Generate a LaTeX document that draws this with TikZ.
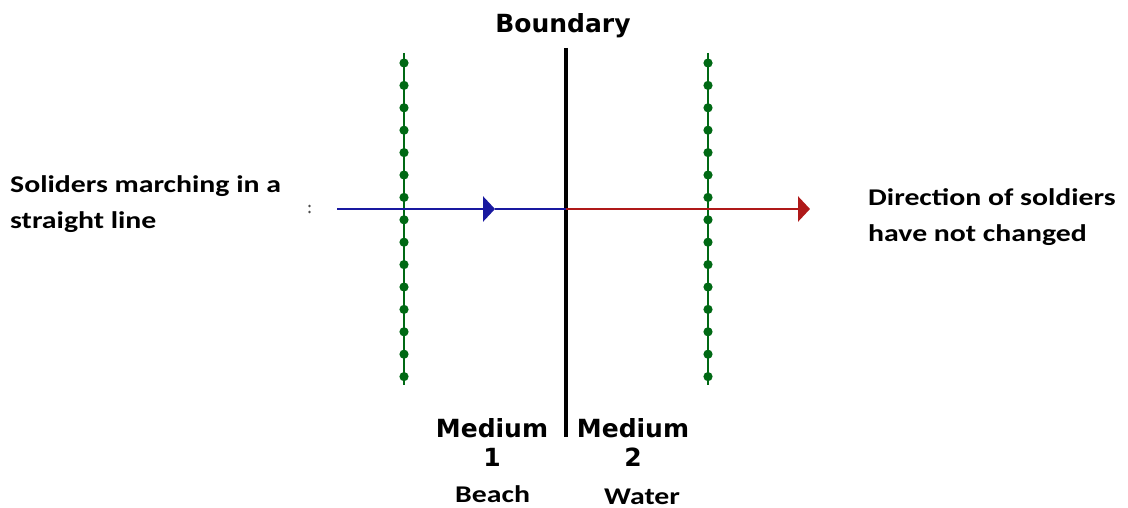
\documentclass[tikz,border=0pt]{standalone}
\usepackage{fontspec}
\setmainfont{Carlito}
\newfontfamily\lblfont[FakeStretch=1.24]{Carlito}
\newfontfamily\verdanalike{DejaVu Sans}
\usetikzlibrary{arrows.meta}
\definecolor{dotgreen}{RGB}{0,105,20}
\definecolor{rayblue}{RGB}{25,25,160}
\definecolor{rayred}{RGB}{175,25,25}
\tikzset{
  green line/.style={draw=dotgreen, line width=2.8pt},
  greendot/.style={fill=dotgreen},
  lbl/.style={font=\lblfont\fontsize{24}{28}\selectfont\bfseries, align=left, inner sep=0pt},
  px/.style={font=\verdanalike\fontsize{25}{29}\selectfont\bfseries, inner sep=0pt},
  tipstyle/.style={-{Triangle[length=12pt,width=25pt]}},
  ray/.style={line width=2.8pt},
}
\begin{document}
\begin{tikzpicture}[x=1pt,y=-1pt]
\useasboundingbox (0,0) rectangle (1128,508);
% boundary
\coordinate (bt) at (566,48);
\coordinate (bb) at (566,437);
\draw[line width=3.2pt, black] (bt) -- (bb);
% dotted green lines
\coordinate (g1t) at (404,53);
\coordinate (g1b) at (404,385);
\coordinate (g2t) at (708,53);
\coordinate (g2b) at (708,385);
\draw[green line] (g1t) -- (g1b);
\draw[green line] (g2t) -- (g2b);
\foreach \yy in {0,...,14} {
  \fill[greendot] (404,63+22.4*\yy) circle (4.6pt);
  \fill[greendot] (708,63+22.4*\yy) circle (4.6pt);
}
% rays
\coordinate (bs) at (337,209);
\coordinate (bm) at (495,209);
\coordinate (bx) at (566,209);
\coordinate (re) at (810,209);
\draw[rayblue, ray, tipstyle] (bs) -- (bm);
\draw[rayblue, ray] (bm) -- (bx);
\draw[rayred, ray, tipstyle] (bx) -- (re);
% tiny mark
\fill[black!70] (309.5,206) circle (1.4pt);
\fill[black!70] (309.5,212) circle (1.4pt);
% labels
\node[px, anchor=base] (boundary) at (563,33) {Boundary};
\node[px, anchor=base] (m1) at (492,437) {Medium};
\node[px, anchor=base] (m1n) at (492,466) {1};
\node[px, anchor=base] (m2) at (633,437) {Medium};
\node[px, anchor=base] (m2n) at (633,466) {2};
\node[lbl, anchor=base west] (beach) at (455,502) {Beach};
\node[lbl, anchor=base west] (water) at (604,504) {Water};
\node[lbl, anchor=base west] (left1) at (10,193) {Soliders marching in a};
\node[lbl, anchor=base west] (left2) at (10,229) {straight line};
\node[lbl, anchor=base west] (right1) at (868,205) {Direction of soldiers};
\node[lbl, anchor=base west] (right2) at (868,241) {have not changed};
\end{tikzpicture}
\end{document}
